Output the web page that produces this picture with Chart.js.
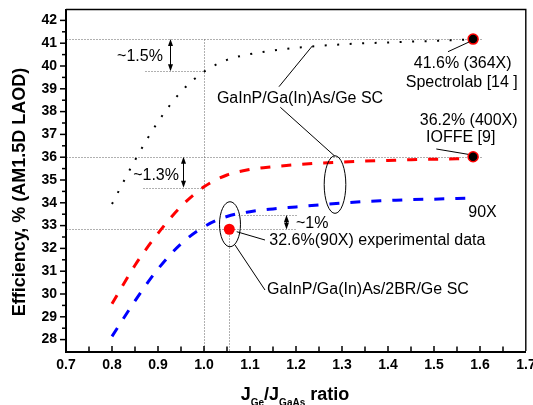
<!DOCTYPE html>
<html><head><meta charset="utf-8">
<script src="https://cdn.jsdelivr.net/npm/chart.js@4.4.0/dist/chart.umd.min.js"></script>
<style>html,body{margin:0;padding:0;background:#fff;}</style>
</head><body>
<canvas id="c" width="533" height="405"></canvas>
<script>
// ---- data ----
const ratio   = [0.80, 0.85, 0.90, 0.95, 1.00, 1.05, 1.10, 1.15, 1.20, 1.25, 1.30, 1.35, 1.40, 1.45, 1.50, 1.55, 1.585];
const eff364X = [33.95, 35.87, 37.55, 38.87, 39.75, 40.27, 40.52, 40.68, 40.80, 40.88, 40.95, 41.00, 41.03, 41.07, 41.10, 41.14, 41.17];
const eff400X = [29.57, 31.26, 32.66, 33.84, 34.70, 35.22, 35.46, 35.58, 35.67, 35.74, 35.79, 35.83, 35.86, 35.89, 35.91, 35.93, 35.95];
const eff90X  = [28.14, 29.70, 31.10, 32.20, 32.95, 33.40, 33.61, 33.73, 33.82, 33.91, 33.99, 34.06, 34.10, 34.14, 34.16, 34.19, 34.21];
const measuredRatio = [1.585, 1.585];
const measuredEff   = [41.18, 36.02];
const expRatio = [1.055];
const expEff   = [32.84];
const xTickValues = [0.7, 0.8, 0.9, 1.0, 1.1, 1.2, 1.3, 1.4, 1.5, 1.6, 1.7];
const yTickValues = [28, 29, 30, 31, 32, 33, 34, 35, 36, 37, 38, 39, 40, 41, 42];

// annotations in data coordinates
const labels = [
  ['~1.5%', 0.811, 40.24],
  ['~1.3%', 0.846, 35.00],
  ['GaInP/Ga(In)As/Ge SC', 1.028, 38.39],
  ['41.6% (364X)', 1.456, 39.90],
  ['Spectrolab [14 ]', 1.4385, 39.10],
  ['36.2% (400X)', 1.469, 37.43],
  ['IOFFE [9]', 1.4826, 36.645],
  ['90X', 1.5746, 33.39],
  ['~1%', 1.20, 32.895],
  ['32.6%(90X) experimental data', 1.142, 32.15],
  ['GaInP/Ga(In)As/2BR/Ge SC', 1.137, 29.99]
];
const guides = [
  [0.7, 41.18, 1.6065, 41.18],
  [0.8717, 39.77, 1.0, 39.77],
  [0.7, 36.02, 1.6065, 36.02],
  [0.868, 34.66, 1.0, 34.66],
  [0.7, 32.83, 1.2015, 32.83],
  [1.0746, 33.465, 1.2015, 33.465],
  [1.0, 41.18, 1.0, 27.5],
  [1.055, 32.6, 1.055, 27.5]
];
const arrows = [
  [0.9254, 41.18, 39.77],
  [0.9537, 36.02, 34.66],
  [1.1783, 33.465, 32.83]
];
const leaders = [
  [1.163, 39.092, 1.2354, 40.877],
  [1.1659, 38.189, 1.2841, 36.05],
  [1.5304, 40.627, 1.5776, 41.066],
  [1.505, 36.36, 1.5739, 36.127],
  [1.0711, 32.732, 1.1326, 32.368],
  [1.0674, 32.149, 1.1326, 30.175]
];
const ellipses = [
  [1.2848, 34.80, 0.0235, 1.263],
  [1.0565, 33.06, 0.0228, 0.987]
];

const pts = (xs, ys) => xs.map((x, i) => ({x: x, y: ys[i]}));
const FONT = '"Liberation Sans", Arial, sans-serif';

const annot = {
  id: 'annot',
  beforeDatasetsDraw(chart) {
    const {ctx, scales: {x, y}} = chart;
    ctx.save();
    ctx.strokeStyle = '#606060';
    ctx.lineWidth = 1;
    ctx.setLineDash([1, 2]);
    guides.forEach(g => {
      ctx.beginPath();
      ctx.moveTo(Math.round(x.getPixelForValue(g[0])) + 0.5, Math.round(y.getPixelForValue(g[1])) + 0.5);
      ctx.lineTo(Math.round(x.getPixelForValue(g[2])) + 0.5, Math.round(y.getPixelForValue(g[3])) + 0.5);
      ctx.stroke();
    });
    ctx.restore();
  },
  afterDatasetsDraw(chart) {
    const {ctx, chartArea: ca, scales: {x, y}} = chart;
    ctx.save();
    ctx.setLineDash([]);
    ctx.strokeStyle = '#000';
    ctx.fillStyle = '#000';
    ctx.lineWidth = 1;
    // leaders
    leaders.forEach(l => {
      ctx.beginPath();
      ctx.moveTo(x.getPixelForValue(l[0]), y.getPixelForValue(l[1]));
      ctx.lineTo(x.getPixelForValue(l[2]), y.getPixelForValue(l[3]));
      ctx.stroke();
    });
    // ellipses
    ellipses.forEach(e => {
      const cx = x.getPixelForValue(e[0]), cy = y.getPixelForValue(e[1]);
      const rx = x.getPixelForValue(e[0] + e[2]) - cx;
      const ry = cy - y.getPixelForValue(e[1] + e[3]);
      ctx.beginPath();
      ctx.ellipse(cx, cy, rx, ry, 0, 0, Math.PI * 2);
      ctx.stroke();
    });
    // double arrows
    arrows.forEach(a => {
      const px = Math.round(x.getPixelForValue(a[0])) + 0.5;
      const y1 = y.getPixelForValue(a[1]), y2 = y.getPixelForValue(a[2]);
      ctx.beginPath(); ctx.moveTo(px, y1 + 4); ctx.lineTo(px, y2 - 4); ctx.stroke();
      ctx.beginPath(); ctx.moveTo(px, y1); ctx.lineTo(px - 2.5, y1 + 7); ctx.lineTo(px + 2.5, y1 + 7); ctx.closePath(); ctx.fill();
      ctx.beginPath(); ctx.moveTo(px, y2); ctx.lineTo(px - 2.5, y2 - 7); ctx.lineTo(px + 2.5, y2 - 7); ctx.closePath(); ctx.fill();
    });
    // text
    ctx.font = '16px ' + FONT;
    ctx.textAlign = 'left';
    ctx.textBaseline = 'alphabetic';
    labels.forEach(t => ctx.fillText(t[0], x.getPixelForValue(t[1]), y.getPixelForValue(t[2])));
    // frame
    ctx.lineWidth = 2;
    ctx.beginPath();
    ctx.moveTo(ca.left, ca.top); ctx.lineTo(ca.left, ca.bottom + 1); ctx.lineTo(ca.right, ca.bottom + 1);
    ctx.stroke();
    ctx.lineWidth = 1.4;
    ctx.beginPath();
    ctx.moveTo(ca.left, ca.top + 0.5); ctx.lineTo(ca.right - 0.2, ca.top + 0.5); ctx.lineTo(ca.right - 0.2, ca.bottom);
    ctx.stroke();
    // ticks
    ctx.lineWidth = 1.5;
    yTickValues.forEach(v => {
      const py = y.getPixelForValue(v);
      ctx.beginPath(); ctx.moveTo(ca.left - 6, py); ctx.lineTo(ca.left, py); ctx.stroke();
      const pm = y.getPixelForValue(v + 0.5);
      if (v + 0.5 < 42.5) { ctx.beginPath(); ctx.moveTo(ca.left - 4, pm); ctx.lineTo(ca.left, pm); ctx.stroke(); }
    });
    xTickValues.forEach((v, i) => {
      const px = x.getPixelForValue(v);
      if (i > 0 && i < xTickValues.length - 1) { ctx.beginPath(); ctx.moveTo(px, ca.bottom); ctx.lineTo(px, ca.bottom - 5); ctx.stroke(); }
      if (i < xTickValues.length - 1) {
        const pm = x.getPixelForValue((v + xTickValues[i + 1]) / 2);
        ctx.beginPath(); ctx.moveTo(pm, ca.bottom); ctx.lineTo(pm, ca.bottom - 4.5); ctx.stroke();
      }
    });
    // axis titles
    ctx.font = 'bold 18px ' + FONT;
    ctx.save();
    ctx.translate(25, (ca.top + ca.bottom) / 2 + 12);
    ctx.rotate(-Math.PI / 2);
    ctx.textAlign = 'center';
    ctx.fillText('Efficiency, % (AM1.5D LAOD)', 0, 0);
    ctx.restore();
    const parts = [['J', 18, 0], ['Ge', 10, 6], ['/J', 18, 0], ['GaAs', 10, 6], [' ratio', 18, 0]];
    let tw = 0;
    parts.forEach(p => { ctx.font = 'bold ' + p[1] + 'px ' + FONT; tw += ctx.measureText(p[0]).width; });
    let cx = 295 - tw / 2;
    ctx.textAlign = 'left';
    parts.forEach(p => { ctx.font = 'bold ' + p[1] + 'px ' + FONT; ctx.fillText(p[0], cx, 400 + p[2]); cx += ctx.measureText(p[0]).width; });
    ctx.restore();
  }
};

new Chart(document.getElementById('c'), {
  type: 'line',
  data: {
    datasets: [
      { data: pts(measuredRatio, measuredEff), showLine: false, pointRadius: 5, pointBackgroundColor: '#000', pointBorderColor: '#ff0000', pointBorderWidth: 1.5 },
      { data: pts(expRatio, expEff), showLine: false, pointRadius: 5.5, pointBackgroundColor: '#ff0000', pointBorderColor: '#ff0000', pointBorderWidth: 0 },
      { data: pts(ratio, eff364X), borderColor: '#000', borderWidth: 2, borderDash: [2, 10.5], borderCapStyle: 'butt', pointRadius: 0, cubicInterpolationMode: 'monotone', fill: false },
      { data: pts(ratio, eff400X), borderColor: '#ff0000', borderWidth: 3, borderDash: [10, 11], borderCapStyle: 'butt', pointRadius: 0, cubicInterpolationMode: 'monotone', fill: false },
      { data: pts(ratio, eff90X), borderColor: '#0000ff', borderWidth: 3, borderDash: [10, 11], borderCapStyle: 'butt', pointRadius: 0, cubicInterpolationMode: 'monotone', fill: false }
    ]
  },
  options: {
    responsive: false,
    animation: false,
    devicePixelRatio: 1,
    layout: { padding: { top: 9, right: 7, left: 0, bottom: 0 } },
    plugins: { legend: { display: false }, tooltip: { enabled: false } },
    scales: {
      x: {
        type: 'linear', min: 0.7, max: 1.7,
        afterBuildTicks: s => { s.ticks = xTickValues.map(v => ({ value: v })); },
        ticks: { callback: v => Number(v).toFixed(1), font: { family: FONT, size: 14, weight: 'bold' }, color: '#000', padding: 6, maxRotation: 0, autoSkip: false },
        grid: { display: false, drawTicks: false },
        border: { display: false },
        afterFit: s => { s.height = 54; s.paddingLeft = 0; s.paddingRight = 0; }
      },
      y: {
        type: 'linear', min: 27.5, max: 42.5,
        afterBuildTicks: s => { s.ticks = yTickValues.map(v => ({ value: v })); },
        ticks: { callback: v => String(v), font: { family: FONT, size: 14, weight: 'bold' }, color: '#000', padding: 9, autoSkip: false },
        grid: { display: false, drawTicks: false },
        border: { display: false },
        afterFit: s => { s.width = 66; s.paddingTop = 0; s.paddingBottom = 0; }
      }
    }
  },
  plugins: [annot]
});
</script>
</body></html>
